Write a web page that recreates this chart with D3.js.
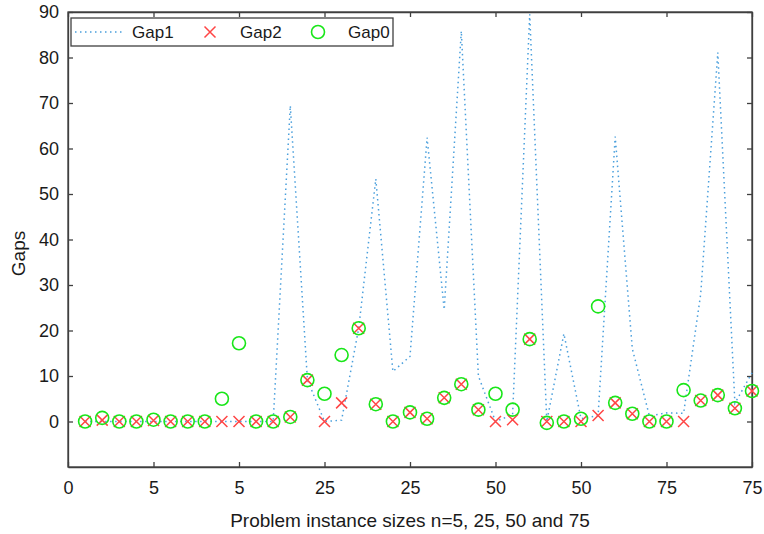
<!DOCTYPE html>
<meta http-equiv="content-type" content="text/html; charset=UTF8">
<html>
<head>
	<title>Gaps</title>
	<script type="text/javascript" src="https://cdn.jsdelivr.net/npm/d3@7/dist/d3.min.js"></script>
	<style type="text/css">
		body, html {
			padding: 0;
			margin: 0;
			background: #fff;
		}
		svg text {
			font-family: "Liberation Sans", Arial, sans-serif;
			fill: #1a1a1a;
		}
		.axis path, .axis line {
			stroke: #404040;
			stroke-width: 1.3;
		}
	</style>
</head>
<body>
<svg id="Chart"></svg>

<script type="text/javascript">

	// instance index 1..40 (5 groups: n=5, 25, 50, 75)
	var instances = d3.range(1, 41);

	var xTickValues = [0, 5, 10, 15, 20, 25, 30, 35, 40];
	var xTickLabels = ["0", "5", "5", "25", "25", "50", "50", "75", "75"];
	var yTickValues = [0, 10, 20, 30, 40, 50, 60, 70, 80, 90];

	var gap1 = [0, 0, 0, 0, 0, 0, 0, 0, 0, 0,
		0, 0, 69.4, 9.2, 0, 0.3, 20.5, 53.3, 11.0, 14.3,
		62.4, 24.6, 85.8, 10, 0, 1.5, 89.5, 0, 19.3, 0.6,
		1.3, 62.6, 16, 1.2, 1.9, 1.8, 28, 81.1, 4, 10.7];

	var gap2 = [0, 0.3, 0, 0, 0.2, 0, 0, 0, 0, 0,
		0, 0, 1.0, 9.1, 0, 4.1, 20.5, 3.8, 0, 2.0,
		0.6, 5.2, 8.2, 2.6, 0, 0.4, 18.1, 0, 0, 0,
		1.3, 4.1, 1.7, 0, 0, 0, 4.6, 5.8, 2.9, 6.7];

	var gap0 = [0, 0.8, 0, 0, 0.4, 0, 0, 0, 5.0, 17.2,
		0, 0, 1.0, 9.1, 6.1, 14.6, 20.5, 3.8, 0, 2.0,
		0.6, 5.2, 8.2, 2.6, 6.1, 2.6, 18.1, -0.3, 0, 0.6,
		25.3, 4.1, 1.7, 0, 0, 6.9, 4.6, 5.8, 2.9, 6.7];

	var seriesNames = ["Gap1", "Gap2", "Gap0"];

	var COLORS = {
		Gap1: "#4a9fdc",
		Gap2: "#ff4545",
		Gap0: "#19e619"
	};

	var wW = 764, wH = 534;
	var margin = { left: 68, right: 12, top: 12, bottom: 67 };

	var svg = d3.select("#Chart")
		.attr("width", wW)
		.attr("height", wH);

	var x = d3.scaleLinear()
		.domain([0, 40])
		.range([margin.left, wW - margin.right]);

	var y = d3.scaleLinear()
		.domain([-10, 90])
		.range([wH - margin.bottom, margin.top]);

	var pts = function(vals) {
		return instances.map(function(d, i) {
			return { x: d, v: vals[i] };
		});
	};

	// axes, MATLAB style: ticks point inward on all four sides
	svg.append("g")
		.attr("class", "axis")
		.attr("transform", "translate(0," + y.range()[0] + ")")
		.call(d3.axisBottom(x).tickValues(xTickValues).tickSize(-5).tickSizeOuter(0)
			.tickFormat(function(d, i) { return xTickLabels[i]; }))
		.call(function(g) {
			g.selectAll("text").attr("y", 14).attr("dy", ".71em").style("font-size", "18px");
		});

	svg.append("g")
		.attr("class", "axis")
		.attr("transform", "translate(0," + y.range()[1] + ")")
		.call(d3.axisTop(x).tickValues(xTickValues).tickSize(-5).tickSizeOuter(0).tickFormat(""));

	svg.append("g")
		.attr("class", "axis")
		.attr("transform", "translate(" + x.range()[0] + ",0)")
		.call(d3.axisLeft(y).tickValues(yTickValues).tickSize(-5).tickSizeOuter(0))
		.call(function(g) {
			g.selectAll("text").attr("x", -9).style("font-size", "18px");
		});

	svg.append("g")
		.attr("class", "axis")
		.attr("transform", "translate(" + x.range()[1] + ",0)")
		.call(d3.axisRight(y).tickValues(yTickValues).tickSize(-5).tickSizeOuter(0).tickFormat(""));

	svg.append("rect")
		.attr("x", x.range()[0])
		.attr("y", y.range()[1])
		.attr("width", x.range()[1] - x.range()[0])
		.attr("height", y.range()[0] - y.range()[1])
		.attr("fill", "none")
		.attr("stroke", "#404040")
		.attr("stroke-width", 1.3);

	// Gap1 dotted line
	var line = d3.line()
		.x(function(d) { return x(d.x); })
		.y(function(d) { return y(d.v); });

	svg.append("path")
		.datum(pts(gap1))
		.attr("d", line)
		.attr("fill", "none")
		.attr("stroke", COLORS.Gap1)
		.attr("stroke-width", 1.5)
		.attr("stroke-dasharray", "1.5,3.5");

	// Gap2 crosses
	var cross = function(sel, s) {
		sel.append("path")
			.attr("d", "M" + (-s) + "," + (-s) + "L" + s + "," + s + "M" + (-s) + "," + s + "L" + s + "," + (-s))
			.attr("stroke", COLORS.Gap2)
			.attr("stroke-width", 1.5)
			.attr("fill", "none");
	};

	svg.append("g").selectAll("g")
		.data(pts(gap2))
		.enter().append("g")
			.attr("transform", function(d) {
				return "translate(" + x(d.x) + "," + y(d.v) + ")";
			})
			.call(cross, 5.5);

	// Gap0 circles
	svg.append("g").selectAll("circle")
		.data(pts(gap0))
		.enter().append("circle")
			.attr("cx", function(d) { return x(d.x); })
			.attr("cy", function(d) { return y(d.v); })
			.attr("r", 6.5)
			.attr("fill", "none")
			.attr("stroke", COLORS.Gap0)
			.attr("stroke-width", 1.6);

	// axis titles
	svg.append("text")
		.attr("x", (x.range()[0] + x.range()[1]) / 2)
		.attr("y", 527)
		.attr("text-anchor", "middle")
		.style("font-size", "19px")
		.text("Problem instance sizes n=5, 25, 50 and 75");

	svg.append("text")
		.attr("transform", "translate(25," + ((y.range()[0] + y.range()[1]) / 2 + 14) + ") rotate(-90)")
		.attr("text-anchor", "middle")
		.style("font-size", "19px")
		.text("Gaps");

	// legend
	var legend = svg.append("g")
		.attr("transform", "translate(71,18)");

	legend.append("rect")
		.attr("width", 322)
		.attr("height", 28)
		.attr("fill", "#fff")
		.attr("stroke", "#404040")
		.attr("stroke-width", 1.3);

	var entries = legend.selectAll("g")
		.data(seriesNames)
		.enter().append("g")
			.attr("transform", function(d, i) {
				return "translate(" + (4 + i * 108) + ",14)";
			});

	entries.append("text")
		.attr("x", 57)
		.attr("dy", ".35em")
		.style("font-size", "17px")
		.text(function(d) { return d; });

	entries.filter(function(d) { return d === "Gap1"; })
		.append("line")
			.attr("x1", 0)
			.attr("x2", 49)
			.attr("stroke", COLORS.Gap1)
			.attr("stroke-width", 1.5)
			.attr("stroke-dasharray", "1.5,3.5");

	entries.filter(function(d) { return d === "Gap2"; })
		.append("g")
			.attr("transform", "translate(27,0)")
			.call(cross, 5.5);

	entries.filter(function(d) { return d === "Gap0"; })
		.append("circle")
			.attr("cx", 27)
			.attr("r", 6.5)
			.attr("fill", "none")
			.attr("stroke", COLORS.Gap0)
			.attr("stroke-width", 1.6);

</script>
</body>
</html>
